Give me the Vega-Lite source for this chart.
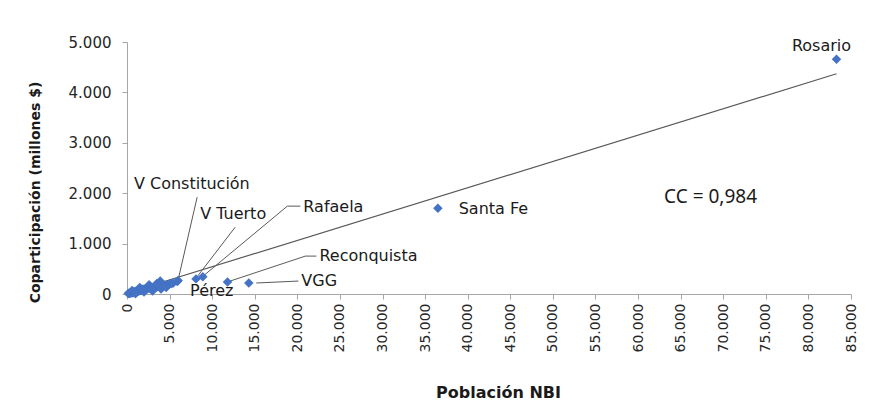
{
  "$schema": "https://vega.github.io/schema/vega-lite/v6.json",
  "width": 724,
  "height": 252,
  "autosize": {"type": "none"},
  "padding": {"left": 127, "top": 42, "right": 44, "bottom": 118},
  "background": "white",
  "config": {"view": {"stroke": null}, "font": "DejaVu Sans"},
  "datasets": {
    "points": [
      {"ciudad": "", "x": 150, "y": 8}, {"ciudad": "", "x": 220, "y": 15}, {"ciudad": "", "x": 300, "y": 12},
      {"ciudad": "", "x": 380, "y": 25}, {"ciudad": "", "x": 450, "y": 20}, {"ciudad": "", "x": 520, "y": 30},
      {"ciudad": "", "x": 600, "y": 22}, {"ciudad": "", "x": 680, "y": 35}, {"ciudad": "", "x": 750, "y": 40},
      {"ciudad": "", "x": 820, "y": 28}, {"ciudad": "", "x": 900, "y": 45}, {"ciudad": "", "x": 980, "y": 38},
      {"ciudad": "", "x": 1050, "y": 55}, {"ciudad": "", "x": 1120, "y": 48}, {"ciudad": "", "x": 1200, "y": 60},
      {"ciudad": "", "x": 1300, "y": 52}, {"ciudad": "", "x": 1400, "y": 70}, {"ciudad": "", "x": 1500, "y": 65},
      {"ciudad": "", "x": 1600, "y": 80}, {"ciudad": "", "x": 1700, "y": 72}, {"ciudad": "", "x": 1800, "y": 95},
      {"ciudad": "", "x": 1900, "y": 85}, {"ciudad": "", "x": 2000, "y": 100}, {"ciudad": "", "x": 2100, "y": 90},
      {"ciudad": "", "x": 2250, "y": 110}, {"ciudad": "", "x": 2400, "y": 105}, {"ciudad": "", "x": 2550, "y": 120},
      {"ciudad": "", "x": 2700, "y": 115}, {"ciudad": "", "x": 2850, "y": 130}, {"ciudad": "", "x": 3000, "y": 125},
      {"ciudad": "", "x": 3200, "y": 140}, {"ciudad": "", "x": 3400, "y": 135}, {"ciudad": "", "x": 3600, "y": 150},
      {"ciudad": "", "x": 3900, "y": 260}, {"ciudad": "", "x": 4100, "y": 160}, {"ciudad": "", "x": 4400, "y": 175},
      {"ciudad": "", "x": 4700, "y": 185}, {"ciudad": "", "x": 5000, "y": 200}, {"ciudad": "Pérez", "x": 5200, "y": 210},
      {"ciudad": "", "x": 5400, "y": 215}, {"ciudad": "", "x": 5900, "y": 250},
      {"ciudad": "", "x": 600, "y": 70}, {"ciudad": "", "x": 1000, "y": 5}, {"ciudad": "", "x": 1500, "y": 130},
      {"ciudad": "", "x": 2000, "y": 40}, {"ciudad": "", "x": 2600, "y": 185}, {"ciudad": "", "x": 3000, "y": 60},
      {"ciudad": "", "x": 3500, "y": 210}, {"ciudad": "", "x": 4000, "y": 100}, {"ciudad": "", "x": 4600, "y": 130},
      {"ciudad": "V Constitución", "x": 6000, "y": 270},
      {"ciudad": "V Tuerto", "x": 8100, "y": 300},
      {"ciudad": "Rafaela", "x": 8900, "y": 340},
      {"ciudad": "Reconquista", "x": 11800, "y": 240},
      {"ciudad": "VGG", "x": 14300, "y": 220},
      {"ciudad": "Santa Fe", "x": 36500, "y": 1700},
      {"ciudad": "Rosario", "x": 83300, "y": 4660}
    ],
    "trend": [
      {"x": 100, "y": 25},
      {"x": 83300, "y": 4370}
    ],
    "leaders": [
      {"x": 8235, "y": 1921, "x2": 6000, "y2": 277},
      {"x": 12706, "y": 1327, "x2": 8118, "y2": 317},
      {"x": 20353, "y": 1743, "x2": 18824, "y2": 1743},
      {"x": 18824, "y": 1743, "x2": 8941, "y2": 356},
      {"x": 22235, "y": 752, "x2": 20941, "y2": 752},
      {"x": 20941, "y": 752, "x2": 12118, "y2": 257},
      {"x": 20118, "y": 257, "x2": 15176, "y2": 218}
    ],
    "labels": [
      {"texto": "V Constitución", "x": 820, "y": 2178},
      {"texto": "V Tuerto", "x": 8590, "y": 1584},
      {"texto": "Rafaela", "x": 20700, "y": 1723},
      {"texto": "Reconquista", "x": 22590, "y": 752},
      {"texto": "VGG", "x": 20470, "y": 257},
      {"texto": "Pérez", "x": 7410, "y": 59},
      {"texto": "Santa Fe", "x": 38940, "y": 1683}
    ],
    "top": [
      {"texto": "Rosario", "x": 81530, "y": 4911}
    ],
    "cc": [
      {"texto": "CC = 0,984", "x": 63060, "y": 1921}
    ]
  },
  "encoding": {
    "x": {
      "field": "x", "type": "quantitative",
      "scale": {"domain": [0, 85000], "nice": false, "zero": true},
      "axis": {
        "title": "Población NBI",
        "values": [0, 5000, 10000, 15000, 20000, 25000, 30000, 35000, 40000, 45000, 50000, 55000, 60000, 65000, 70000, 75000, 80000, 85000],
        "labelExpr": "replace(format(datum.value, ','), ',', '.')",
        "grid": false,
        "domainColor": "#a6a6a6",
        "tickColor": "#a6a6a6",
        "tickSize": 5,
        "labelAngle": 270,
        "labelAlign": "right",
        "labelBaseline": "middle",
        "labelPadding": 4,
        "labelFont": "DejaVu Sans",
        "labelFontSize": 14,
        "labelColor": "#262626",
        "labelOverlap": false,
        "titleFont": "DejaVu Sans",
        "titleFontSize": 16,
        "titleFontWeight": "bold",
        "titleColor": "#1a1a1a",
        "titleX": 371,
        "titleY": 98,
        "titleAlign": "center",
        "titleBaseline": "middle"
      }
    },
    "y": {
      "field": "y", "type": "quantitative",
      "scale": {"domain": [0, 5000], "nice": false},
      "axis": {
        "title": "Coparticipación (millones $)",
        "values": [0, 1000, 2000, 3000, 4000, 5000],
        "labelExpr": "replace(format(datum.value, ','), ',', '.')",
        "grid": false,
        "domainColor": "#a6a6a6",
        "tickColor": "#a6a6a6",
        "tickSize": 5,
        "labelPadding": 11,
        "labelFont": "DejaVu Sans",
        "labelFontSize": 15,
        "labelColor": "#262626",
        "titleFont": "DejaVu Sans",
        "titleFontSize": 14,
        "titleFontWeight": "bold",
        "titleColor": "#1a1a1a",
        "titleAngle": 270,
        "titleX": -92,
        "titleY": 150,
        "titleAlign": "center",
        "titleBaseline": "middle"
      }
    }
  },
  "layer": [
    {
      "data": {"name": "trend"},
      "mark": {"type": "line", "color": "#595959", "strokeWidth": 1.2}
    },
    {
      "data": {"name": "leaders"},
      "mark": {"type": "rule", "color": "#595959", "strokeWidth": 1},
      "encoding": {
        "x2": {"field": "x2"},
        "y2": {"field": "y2"}
      }
    },
    {
      "data": {"name": "points"},
      "mark": {"type": "point", "shape": "diamond", "filled": true, "size": 90, "color": "#4472c4", "opacity": 1}
    },
    {
      "data": {"name": "labels"},
      "mark": {"type": "text", "align": "left", "baseline": "middle", "font": "DejaVu Sans", "fontSize": 16, "color": "#1a1a1a"},
      "encoding": {"text": {"field": "texto"}}
    },
    {
      "data": {"name": "top"},
      "mark": {"type": "text", "align": "center", "baseline": "middle", "font": "DejaVu Sans", "fontSize": 16, "color": "#1a1a1a"},
      "encoding": {"text": {"field": "texto"}}
    },
    {
      "data": {"name": "cc"},
      "mark": {"type": "text", "align": "left", "baseline": "middle", "font": "Noto Sans", "fontSize": 19, "color": "#1a1a1a"},
      "encoding": {"text": {"field": "texto"}}
    }
  ]
}
